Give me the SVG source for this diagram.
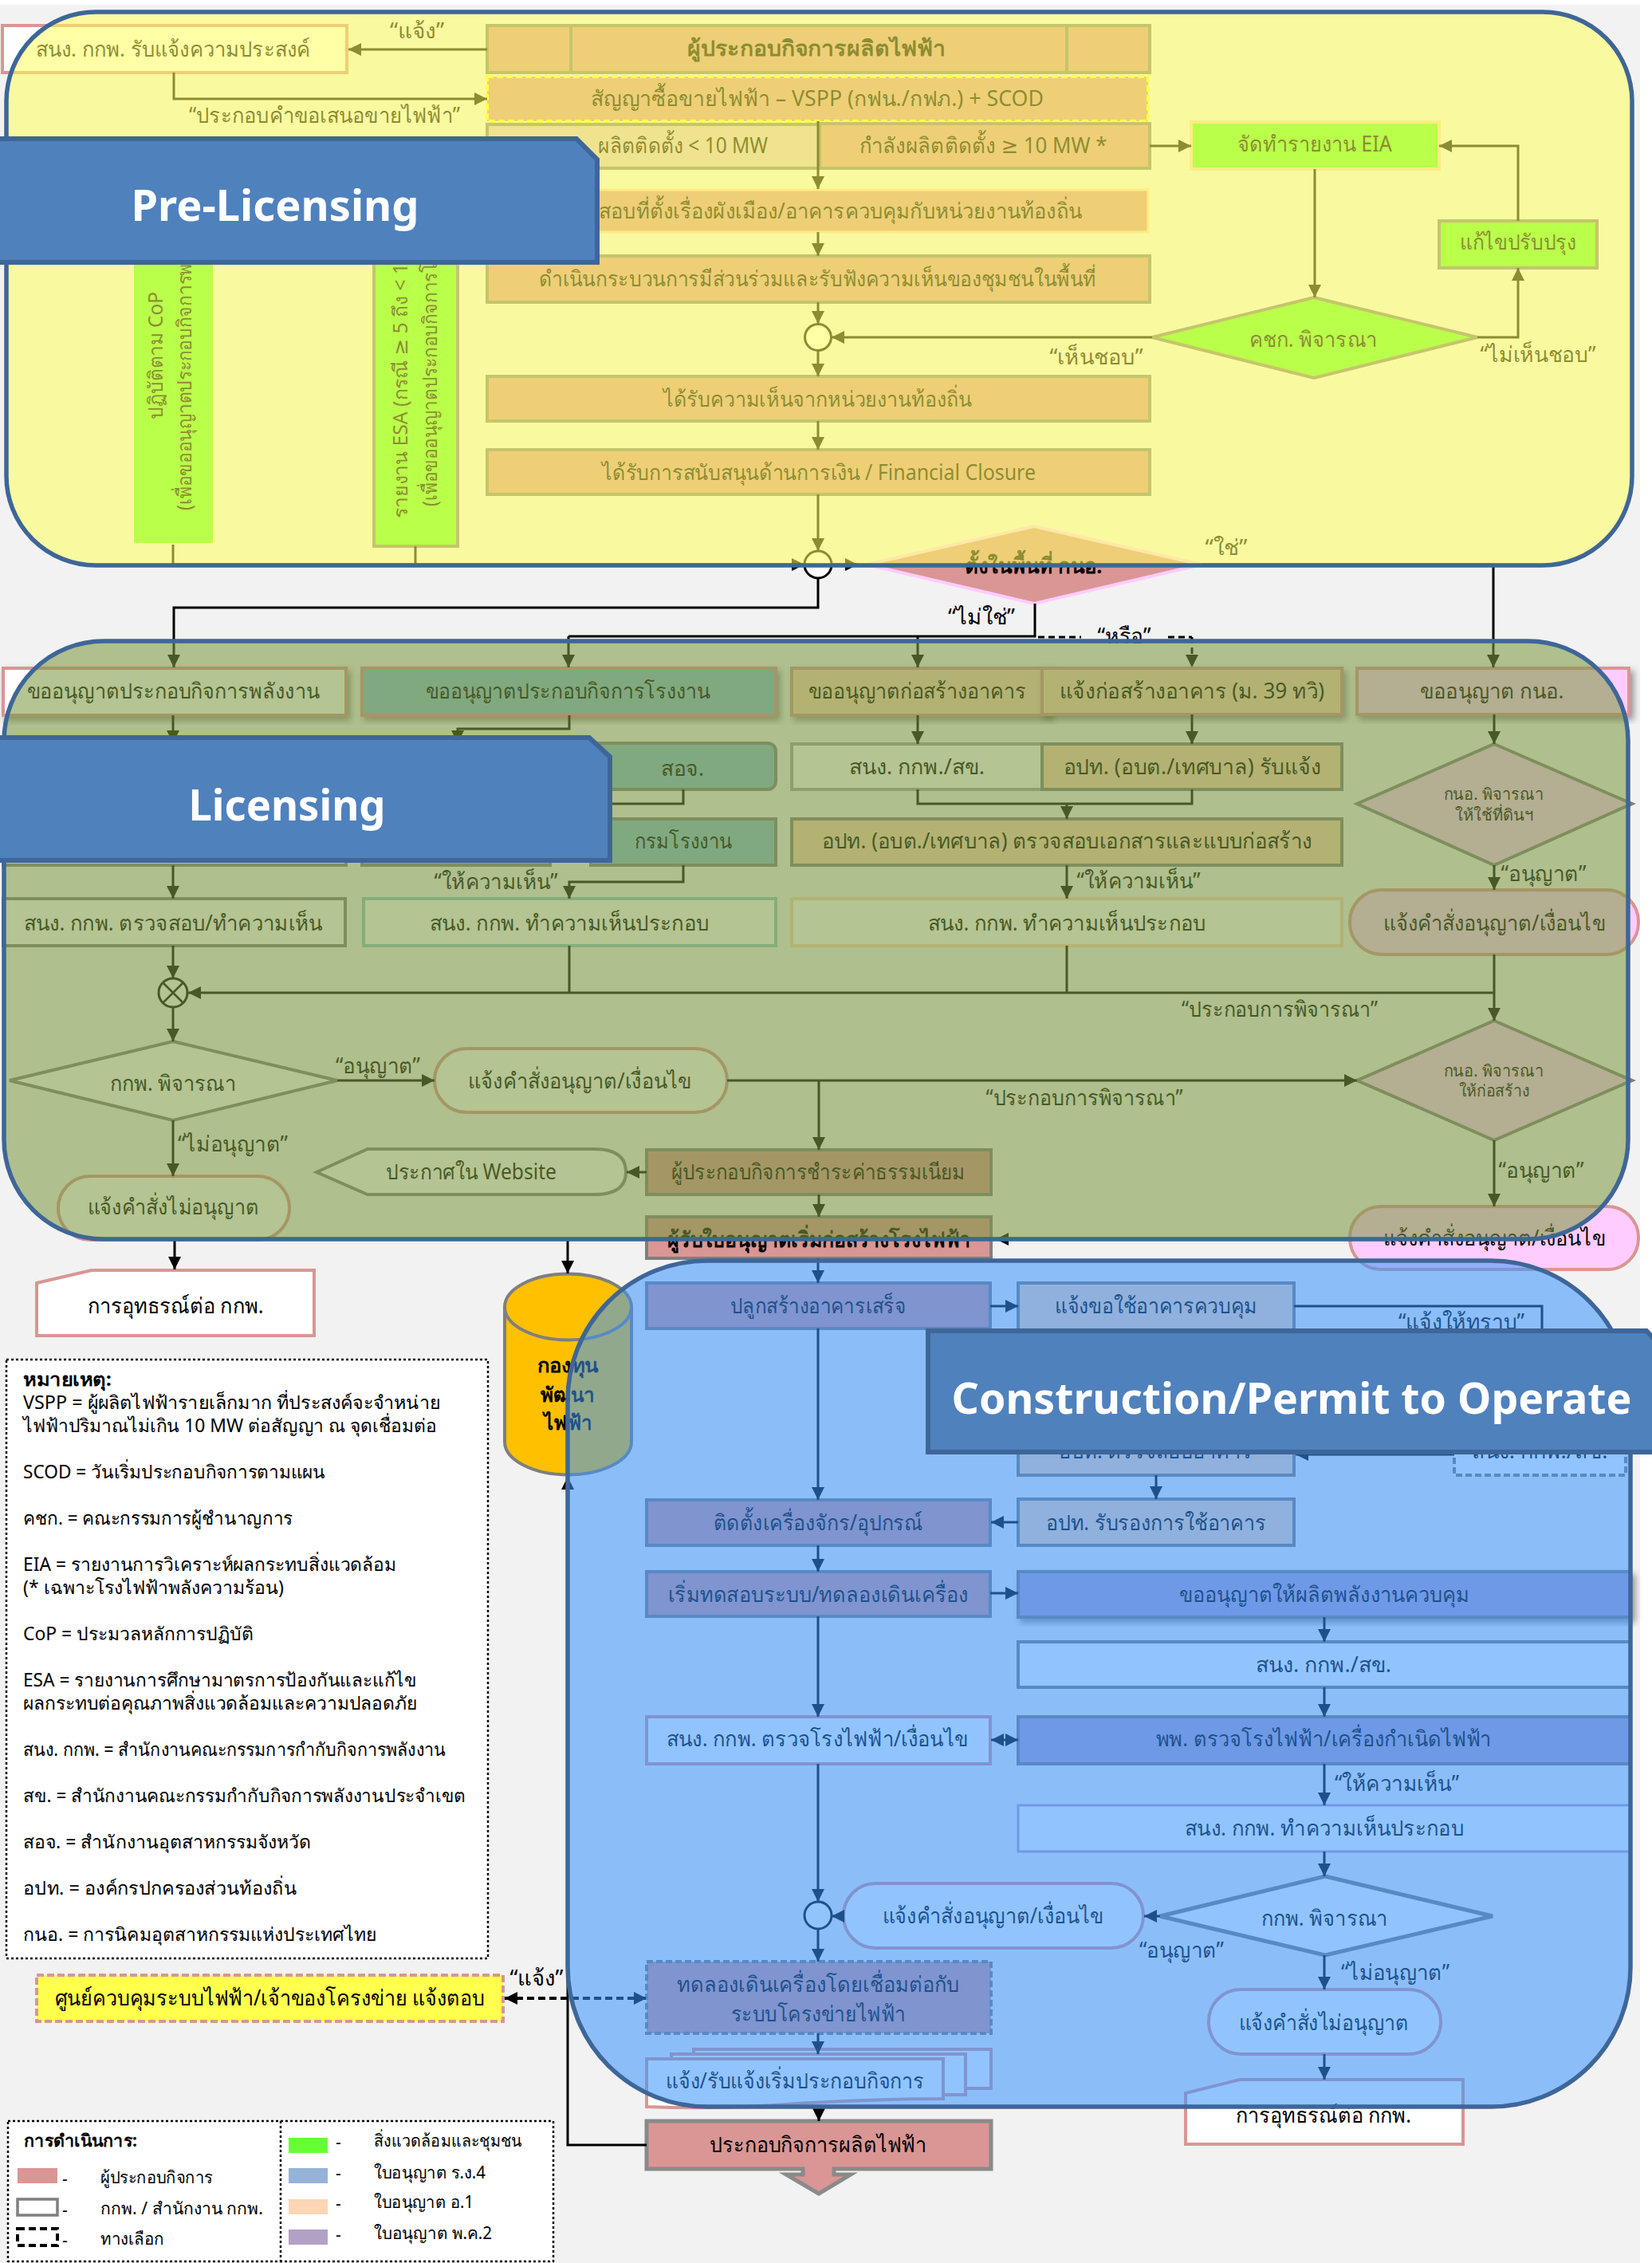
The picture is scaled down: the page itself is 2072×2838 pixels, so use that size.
<svg xmlns="http://www.w3.org/2000/svg" width="2072" height="2838" viewBox="0 0 2072 2838">
<style>
text{font-family:"Noto Sans","DejaVu Sans",sans-serif;fill:#000}
.t{font-size:27px;text-anchor:middle}
.b{font-size:27px;text-anchor:middle;font-weight:700}
.s{font-size:20px;text-anchor:middle}
.n{font-size:23px}
.l{font-size:21px}
.r{font-size:25px}
.h{font-size:54px;font-weight:700;fill:#fff;text-anchor:middle}
.op{fill:#D99694;stroke:#7F7F7F;stroke-width:4}
.wh{fill:#fff;stroke:#7F7F7F;stroke-width:4}
.wp{fill:#fff;stroke:#D99694;stroke-width:4}
.wb{fill:#fff;stroke:#8FCBC0;stroke-width:4}
.wa{fill:#fff;stroke:#FCD5B4;stroke-width:4}
.pe{fill:#FCD5B4;stroke:#7F7F7F;stroke-width:4}
.bl{fill:#84C0D4;stroke:#7F7F7F;stroke-width:4}
.pu{fill:#B2A1C7;stroke:#7F7F7F;stroke-width:4}
.pk{fill:#FFCCFF;stroke:#D99694;stroke-width:4}
.gr{fill:#66FF33;stroke:#7F7F7F;stroke-width:4}
.panel{stroke:#3E6698;stroke-width:5.5}
.ban{fill:#4F81BD;stroke:#3E6698;stroke-width:6}
.c{fill:none;stroke:#000;stroke-width:3}
.d{fill:none;stroke:#000;stroke-width:3;stroke-dasharray:8 5}
.dot{fill:#fff;stroke:#000;stroke-width:2.5;stroke-dasharray:3 3}
</style>
<defs>
<marker id="a" markerUnits="userSpaceOnUse" markerWidth="17" markerHeight="18" refX="16" refY="9" orient="auto-start-reverse"><path d="M0,1 L16,9 L0,17 Z" fill="#000"/></marker>
<filter id="sh" x="-5%" y="-15%" width="112%" height="135%"><feDropShadow dx="4" dy="5" stdDeviation="4" flood-color="#000" flood-opacity=".4"/></filter>
</defs>
<rect x="0" y="0" width="2072" height="2838" fill="#fff"/>
<rect x="0" y="6" width="2057" height="2832" fill="#F2F2F2"/>

<g id="pre-nodes">
<g id="n-notify"><rect class="wp" x="3" y="32" width="432" height="59"/><text class="t" x="217" y="71" textLength="345" lengthAdjust="spacingAndGlyphs">สนง. กกพ. รับแจ้งความประสงค์</text></g>
<g id="n-operator"><rect class="op" x="611" y="32" width="831" height="59"/><path class="op" d="M716,32V91M1338,32V91"/><text class="b" x="1024" y="70" textLength="324" lengthAdjust="spacingAndGlyphs">ผู้ประกอบกิจการผลิตไฟฟ้า</text></g>
<g id="n-ppa"><rect x="611" y="96" width="829" height="56" fill="#D99694" stroke="#FFFF33" stroke-width="4" stroke-dasharray="8 4"/><text class="t" x="1025" y="133" textLength="568" lengthAdjust="spacingAndGlyphs">สัญญาซื้อขายไฟฟ้า – VSPP (กฟน./กฟภ.) + SCOD</text></g>
<g id="n-lt10"><rect x="611" y="156" width="417" height="55" fill="#DCC0CC" stroke="#7F7F7F" stroke-width="4"/><text class="t" x="750" y="192" style="text-anchor:start" textLength="213" lengthAdjust="spacingAndGlyphs">ผลิตติดตั้ง &lt; 10 MW</text></g>
<g id="n-ge10"><rect class="op" x="1028" y="155" width="414" height="56"/><text class="t" x="1233" y="192" textLength="311" lengthAdjust="spacingAndGlyphs">กำลังผลิตติดตั้ง ≥ 10 MW *</text></g>
<g id="n-eia"><rect x="1494" y="153" width="311" height="59" fill="#66FF33" stroke="#FCD5B4" stroke-width="4"/><text class="t" x="1649" y="190" textLength="194" lengthAdjust="spacingAndGlyphs">จัดทำรายงาน EIA</text></g>
<g id="n-fix"><rect class="gr" x="1805" y="277" width="198" height="59"/><text class="t" x="1904" y="313" textLength="146" lengthAdjust="spacingAndGlyphs">แก้ไขปรับปรุง</text></g>
<g id="n-town"><rect x="611" y="238" width="829" height="53" fill="#D99694" stroke="#FCD5B4" stroke-width="3"/><text class="t" x="751" y="274" style="text-anchor:start" textLength="606" lengthAdjust="spacingAndGlyphs">สอบที่ตั้งเรื่องผังเมือง/อาคารควบคุมกับหน่วยงานท้องถิ่น</text></g>
<g id="n-public"><rect class="op" x="611" y="321" width="831" height="58"/><text class="t" x="1025" y="359" textLength="699" lengthAdjust="spacingAndGlyphs">ดำเนินกระบวนการมีส่วนร่วมและรับฟังความเห็นของชุมชนในพื้นที่</text></g>
<g id="n-j1"><circle cx="1026" cy="423" r="16.5" fill="#fff" stroke="#000" stroke-width="3"/></g>
<g id="n-local"><rect class="op" x="611" y="472" width="831" height="56"/><text class="t" x="1025" y="510" textLength="387" lengthAdjust="spacingAndGlyphs">ได้รับความเห็นจากหน่วยงานท้องถิ่น</text></g>
<g id="n-fin"><rect class="op" x="611" y="564" width="831" height="56"/><text class="t" x="1027" y="602" textLength="544" lengthAdjust="spacingAndGlyphs">ได้รับการสนับสนุนด้านการเงิน / Financial Closure</text></g>
<g id="n-j2"><circle cx="1026" cy="708" r="17" fill="#fff" stroke="#000" stroke-width="3"/></g>
<g id="n-ieat-q"><path d="M1297,660 L1507,708 L1297,757 L1087,708 Z" fill="#D99694" stroke="#FFCCFF" stroke-width="4"/><text class="b" x="1296" y="719" textLength="173" lengthAdjust="spacingAndGlyphs">ตั้งในพื้นที่ กนอ.</text></g>
<g id="n-ec"><path d="M1648,373 L1853,423 L1648,474 L1445,423 Z" class="gr"/><text class="t" x="1647" y="435" textLength="161" lengthAdjust="spacingAndGlyphs">คชก. พิจารณา</text></g>
<g id="n-cop"><rect x="168" y="300" width="99" height="381" fill="#66FF33"/>
<text class="r" transform="translate(204 526) rotate(-90)" textLength="160" lengthAdjust="spacingAndGlyphs">ปฏิบัติตาม CoP</text>
<text class="r" transform="translate(240 640) rotate(-90)" textLength="309" lengthAdjust="spacingAndGlyphs">(เพื่อขออนุญาตประกอบกิจการพ</text></g>
<g id="n-esa"><rect class="gr" x="469" y="300" width="105" height="385"/>
<text class="r" transform="translate(511 650) rotate(-90)" textLength="320" lengthAdjust="spacingAndGlyphs">รายงาน ESA (กรณี ≥ 5 ถึง &lt; 1</text>
<text class="r" transform="translate(548 635) rotate(-90)" textLength="305" lengthAdjust="spacingAndGlyphs">(เพื่อขออนุญาตประกอบกิจการโ</text></g>
</g>

<g id="lic-nodes">
<g id="n-a1" filter="url(#sh)"><rect class="wp" x="4" y="838" width="430" height="59"/></g><text class="t" x="217" y="876" textLength="367" lengthAdjust="spacingAndGlyphs">ขออนุญาตประกอบกิจการพลังงาน</text>
<g id="n-b1" filter="url(#sh)"><rect x="454" y="838" width="519" height="59" fill="#84C0D4" stroke="#D99694" stroke-width="4"/></g><text class="t" x="712" y="876" textLength="357" lengthAdjust="spacingAndGlyphs">ขออนุญาตประกอบกิจการโรงงาน</text>
<g id="n-c1" filter="url(#sh)"><rect x="993" y="838" width="323" height="59" fill="#FCD5B4" stroke="#D99694" stroke-width="4"/></g><text class="t" x="1150" y="876" textLength="273" lengthAdjust="spacingAndGlyphs">ขออนุญาตก่อสร้างอาคาร</text>
<g id="n-d1" filter="url(#sh)"><rect x="1307" y="838" width="376" height="58" fill="#FCD5B4" stroke="#D99694" stroke-width="4"/></g><text class="t" x="1495" y="876" textLength="332" lengthAdjust="spacingAndGlyphs">แจ้งก่อสร้างอาคาร (ม. 39 ทวิ)</text>
<g id="n-e1" filter="url(#sh)"><rect class="pk" x="1702" y="838" width="341" height="58"/></g><text class="t" x="1871" y="876" textLength="181" lengthAdjust="spacingAndGlyphs">ขออนุญาต กนอ.</text>
<g id="n-a3"><rect class="wh" x="4" y="1027" width="430" height="58"/></g>
<g id="n-b3l"><rect class="bl" x="454" y="1027" width="236" height="58"/></g>
<g id="n-soj"><rect class="bl" x="738" y="932" width="235" height="58" rx="10"/><text class="t" x="856" y="973" textLength="54" lengthAdjust="spacingAndGlyphs">สอจ.</text></g>
<g id="n-dow"><rect class="bl" x="741" y="1027" width="232" height="58"/><text class="t" x="857" y="1064" textLength="122" lengthAdjust="spacingAndGlyphs">กรมโรงงาน</text></g>
<g id="n-c2"><rect x="993" y="933" width="314" height="57" fill="#fff" stroke="#A6A6A6" stroke-width="4"/><text class="t" x="1150" y="971" textLength="170" lengthAdjust="spacingAndGlyphs">สนง. กกพ./สข.</text></g>
<g id="n-d2"><rect class="pe" x="1307" y="933" width="376" height="57"/><text class="t" x="1495" y="971" textLength="323" lengthAdjust="spacingAndGlyphs">อปท. (อบต./เทศบาล) รับแจ้ง</text></g>
<g id="n-c3"><rect class="pe" x="993" y="1027" width="690" height="58"/><text class="t" x="1338" y="1064" textLength="615" lengthAdjust="spacingAndGlyphs">อปท. (อบต./เทศบาล) ตรวจสอบเอกสารและแบบก่อสร้าง</text></g>
<g id="n-a4"><rect class="wh" x="4" y="1127" width="429" height="59"/><text class="t" x="217" y="1167" textLength="375" lengthAdjust="spacingAndGlyphs">สนง. กกพ. ตรวจสอบ/ทำความเห็น</text></g>
<g id="n-b4"><rect class="wb" x="456" y="1127" width="517" height="59"/><text class="t" x="714" y="1167" textLength="351" lengthAdjust="spacingAndGlyphs">สนง. กกพ. ทำความเห็นประกอบ</text></g>
<g id="n-c4"><rect class="wa" x="993" y="1127" width="690" height="59"/><text class="t" x="1338" y="1167" textLength="349" lengthAdjust="spacingAndGlyphs">สนง. กกพ. ทำความเห็นประกอบ</text></g>
<g id="n-ieat1"><path class="pk" style="stroke:#7F7F7F" d="M1874,933 L2047,1008 L1874,1085 L1702,1008 Z"/><text class="s" x="1873" y="1003" textLength="125" lengthAdjust="spacingAndGlyphs">กนอ. พิจารณา</text><text class="s" x="1874" y="1029" textLength="99" lengthAdjust="spacingAndGlyphs">ให้ใช้ที่ดินฯ</text></g>
<g id="n-pill1"><rect class="pk" x="1693" y="1116" width="362" height="81" rx="40"/><text class="t" x="1874" y="1167" textLength="279" lengthAdjust="spacingAndGlyphs">แจ้งคำสั่งอนุญาต/เงื่อนไข</text></g>
<g id="n-x"><circle cx="217" cy="1245" r="18" fill="#fff" stroke="#000" stroke-width="3"/><path d="M204,1232L230,1258M230,1232L204,1258" stroke="#000" stroke-width="2.5"/></g>
<g id="n-erc-q"><path class="wh" d="M217,1306 L423,1355 L217,1405 L12,1355 Z"/><text class="t" x="217" y="1368" textLength="158" lengthAdjust="spacingAndGlyphs">กกพ. พิจารณา</text></g>
<g id="n-pill2"><rect class="wp" x="545" y="1315" width="367" height="80" rx="40"/><text class="t" x="727" y="1365" textLength="280" lengthAdjust="spacingAndGlyphs">แจ้งคำสั่งอนุญาต/เงื่อนไข</text></g>
<g id="n-ieat2"><path class="pk" style="stroke:#7F7F7F" d="M1874,1280 L2047,1355 L1874,1430 L1702,1355 Z"/><text class="s" x="1873" y="1350" textLength="125" lengthAdjust="spacingAndGlyphs">กนอ. พิจารณา</text><text class="s" x="1874" y="1375" textLength="89" lengthAdjust="spacingAndGlyphs">ให้ก่อสร้าง</text></g>
<g id="n-pill3"><rect class="pk" x="1693" y="1513" width="362" height="79" rx="39"/><text class="t" x="1874" y="1562" textLength="279" lengthAdjust="spacingAndGlyphs">แจ้งคำสั่งอนุญาต/เงื่อนไข</text></g>
<g id="n-pill4"><rect class="wp" x="73" y="1475" width="290" height="80" rx="40"/><text class="t" x="217" y="1523" textLength="215" lengthAdjust="spacingAndGlyphs">แจ้งคำสั่งไม่อนุญาต</text></g>
<g id="n-web"><path class="wh" d="M397,1470 L461,1441 H745 Q785,1441 785,1470 Q785,1498 745,1498 H461 Z"/><text class="t" x="591" y="1479" textLength="214" lengthAdjust="spacingAndGlyphs">ประกาศใน Website</text></g>
<g id="n-fee"><rect class="op" x="811" y="1442" width="432" height="56"/><text class="t" x="1026" y="1479" textLength="369" lengthAdjust="spacingAndGlyphs">ผู้ประกอบกิจการชำระค่าธรรมเนียม</text></g>
<g id="n-start"><rect class="op" x="811" y="1526" width="432" height="52"/><text class="b" x="1027" y="1564" textLength="380" lengthAdjust="spacingAndGlyphs">ผู้รับใบอนุญาตเริ่มก่อสร้างโรงไฟฟ้า</text></g>
<g id="n-appeal1"><path class="wp" d="M46,1609 L115,1593 H394 V1675 H46 Z"/><text class="t" x="220" y="1647" textLength="221" lengthAdjust="spacingAndGlyphs">การอุทธรณ์ต่อ กกพ.</text></g>
<g id="n-fund"><path d="M633,1639 A79.5,41.5 0 0 1 792,1639 V1808 A79.5,41.5 0 0 1 633,1808 Z" fill="#FFC000" stroke="#7F7F7F" stroke-width="4"/><path d="M633,1639 A79.5,41.5 0 0 0 792,1639" fill="none" stroke="#7F7F7F" stroke-width="4"/>
<text class="b" style="font-size:25px" x="712" y="1721" textLength="77" lengthAdjust="spacingAndGlyphs">กองทุน</text><text class="b" style="font-size:25px" x="712" y="1758" textLength="68" lengthAdjust="spacingAndGlyphs">พัฒนา</text><text class="b" style="font-size:25px" x="712" y="1793" textLength="61" lengthAdjust="spacingAndGlyphs">ไฟฟ้า</text></g>
</g>

<g id="con-nodes">
<g id="n-built"><rect class="op" x="811" y="1609" width="431" height="57"/><text class="t" x="1026" y="1647" textLength="220" lengthAdjust="spacingAndGlyphs">ปลูกสร้างอาคารเสร็จ</text></g>
<g id="n-usereq"><rect class="pe" x="1277" y="1609" width="346" height="60"/><text class="t" x="1450" y="1647" textLength="254" lengthAdjust="spacingAndGlyphs">แจ้งขอใช้อาคารควบคุม</text></g>
<g id="n-check"><rect class="pe" x="1277" y="1790" width="346" height="60"/><text class="t" x="1449" y="1829" textLength="242" lengthAdjust="spacingAndGlyphs">อปท. ตรวจสอบอาคาร</text></g>
<g id="n-ercopt"><rect x="1824" y="1790" width="215" height="60" fill="#fff" stroke="#7F7F7F" stroke-width="4" stroke-dasharray="8 4"/><text class="t" x="1931" y="1829" textLength="171" lengthAdjust="spacingAndGlyphs">สนง. กกพ./สข.</text></g>
<g id="n-certify"><rect class="pe" x="1277" y="1880" width="346" height="58"/><text class="t" x="1450" y="1919" textLength="276" lengthAdjust="spacingAndGlyphs">อปท. รับรองการใช้อาคาร</text></g>
<g id="n-install"><rect class="op" x="811" y="1881" width="431" height="57"/><text class="t" x="1026" y="1919" textLength="263" lengthAdjust="spacingAndGlyphs">ติดตั้งเครื่องจักร/อุปกรณ์</text></g>
<g id="n-test"><rect class="op" x="811" y="1971" width="431" height="56"/><text class="t" x="1026" y="2009" textLength="376" lengthAdjust="spacingAndGlyphs">เริ่มทดสอบระบบ/ทดลองเดินเครื่อง</text></g>
<g id="n-pk2" filter="url(#sh)"><rect class="pu" x="1277" y="1971" width="768" height="57"/></g><text class="t" x="1661" y="2009" textLength="364" lengthAdjust="spacingAndGlyphs">ขออนุญาตให้ผลิตพลังงานควบคุม</text>
<g id="n-erc2"><rect class="wh" x="1277" y="2059" width="768" height="57"/><text class="t" x="1660" y="2097" textLength="170" lengthAdjust="spacingAndGlyphs">สนง. กกพ./สข.</text></g>
<g id="n-dede"><rect class="pu" x="1277" y="2153" width="768" height="59"/><text class="t" x="1660" y="2190" textLength="421" lengthAdjust="spacingAndGlyphs">พพ. ตรวจโรงไฟฟ้า/เครื่องกำเนิดไฟฟ้า</text></g>
<g id="n-inspect"><rect class="wp" x="811" y="2153" width="431" height="59"/><text class="t" x="1025" y="2190" textLength="378" lengthAdjust="spacingAndGlyphs">สนง. กกพ. ตรวจโรงไฟฟ้า/เงื่อนไข</text></g>
<g id="n-opinion"><rect x="1277" y="2264" width="768" height="58" fill="#fff" stroke="#B2A1C7" stroke-width="3"/><text class="t" x="1661" y="2302" textLength="350" lengthAdjust="spacingAndGlyphs">สนง. กกพ. ทำความเห็นประกอบ</text></g>
<g id="n-j3"><circle cx="1026" cy="2402" r="17" fill="#fff" stroke="#000" stroke-width="3"/></g>
<g id="n-pill5"><rect class="wp" x="1058" y="2362" width="376" height="81" rx="40"/><text class="t" x="1245" y="2412" textLength="277" lengthAdjust="spacingAndGlyphs">แจ้งคำสั่งอนุญาต/เงื่อนไข</text></g>
<g id="n-erc3"><path class="wh" style="stroke-width:5" d="M1662,2353 L1872,2403 L1662,2452 L1455,2403 Z"/><text class="t" x="1661" y="2415" textLength="159" lengthAdjust="spacingAndGlyphs">กกพ. พิจารณา</text></g>
<g id="n-pill6"><rect class="wp" x="1516" y="2495" width="291" height="81" rx="40"/><text class="t" x="1660" y="2546" textLength="213" lengthAdjust="spacingAndGlyphs">แจ้งคำสั่งไม่อนุญาต</text></g>
<g id="n-appeal2"><path class="wp" d="M1487,2625 L1555,2608 H1835 V2689 H1487 Z"/><text class="t" x="1660" y="2662" textLength="220" lengthAdjust="spacingAndGlyphs">การอุทธรณ์ต่อ กกพ.</text></g>
<g id="n-sync"><rect x="811" y="2460" width="432" height="90" fill="#D99694" stroke="#7F7F7F" stroke-width="4" stroke-dasharray="8 4"/><text class="t" x="1026" y="2498" textLength="354" lengthAdjust="spacingAndGlyphs">ทดลองเดินเครื่องโดยเชื่อมต่อกับ</text><text class="t" x="1026" y="2535" textLength="219" lengthAdjust="spacingAndGlyphs">ระบบโครงข่ายไฟฟ้า</text></g>
<g id="n-docs"><path class="wp" d="M870,2570 H1243 V2619 H870 Z"/><path class="wp" d="M842,2576 H1211 V2627 H842 Z"/><path class="wp" d="M811,2582 H1183 V2632 C1100,2632 1040,2636 1000,2638 C950,2642 880,2645 811,2642 Z"/><text class="t" x="997" y="2619" textLength="324" lengthAdjust="spacingAndGlyphs">แจ้ง/รับแจ้งเริ่มประกอบกิจการ</text></g>
<g id="n-cod"><path d="M811,2660 H1243 V2720 H1046 V2727 H1067 L1027,2751 L986,2727 H1007 V2720 H811 Z" fill="#D99694" stroke="#8A8A8A" stroke-width="5"/><text class="t" x="1026" y="2699" textLength="272" lengthAdjust="spacingAndGlyphs">ประกอบกิจการผลิตไฟฟ้า</text></g>
<g id="n-grid"><rect x="46" y="2477" width="585" height="58" fill="#FFFF4D" stroke="#D99694" stroke-width="4" stroke-dasharray="9 4"/><text class="t" x="338" y="2515" textLength="539" lengthAdjust="spacingAndGlyphs">ศูนย์ควบคุมระบบไฟฟ้า/เจ้าของโครงข่าย แจ้งตอบ</text></g>
</g>

<g id="connectors">
<path class="c" marker-end="url(#a)" d="M611,62H437"/>
<path class="c" marker-end="url(#a)" d="M218,91V124H611"/>
<path class="c" marker-end="url(#a)" d="M1026,152V237"/>
<path class="c" marker-end="url(#a)" d="M1026,291V321"/>
<path class="c" marker-end="url(#a)" d="M1026,379V406"/>
<path class="c" marker-end="url(#a)" d="M1026,440V472"/>
<path class="c" marker-end="url(#a)" d="M1026,528V564"/>
<path class="c" marker-end="url(#a)" d="M1026,620V691"/>
<path class="c" marker-end="url(#a)" d="M1442,183H1494"/>
<path class="c" marker-end="url(#a)" d="M1649,212V373"/>
<path class="c" marker-end="url(#a)" d="M1445,423H1043"/>
<path class="c" marker-end="url(#a)" d="M1853,423H1904V336"/>
<path class="c" marker-end="url(#a)" d="M1904,277V183H1805"/>
<path class="c" marker-end="url(#a)" d="M217,683V708H1009"/>
<path class="c" d="M521,685V708"/>
<path class="c" marker-end="url(#a)" d="M1043,708H1076"/>
<path class="c" marker-end="url(#a)" d="M1026,725V762H218V837"/>
<path class="c" d="M1298,757V798H713"/>
<path class="c" marker-end="url(#a)" d="M713,798V837"/>
<path class="c" marker-end="url(#a)" d="M1151,798V837"/>
<path class="d" d="M1302,799H1356M1465,799H1495"/>
<path class="d" marker-end="url(#a)" d="M1495,799V837"/>
<path class="c" marker-end="url(#a)" d="M1507,708H1873V837"/>
<path class="c" marker-end="url(#a)" d="M217,897V932"/>
<path class="c" marker-end="url(#a)" d="M714,897V914H574V932"/>
<path class="c" d="M857,990V1008H750"/>
<path class="c" marker-end="url(#a)" d="M857,1085V1106H714V1127"/>
<path class="c" marker-end="url(#a)" d="M217,1085V1127"/>
<path class="c" marker-end="url(#a)" d="M1151,897V933"/>
<path class="c" marker-end="url(#a)" d="M1495,896V933"/>
<path class="c" d="M1151,990V1008H1495V990"/>
<path class="c" marker-end="url(#a)" d="M1338,1008V1027"/>
<path class="c" marker-end="url(#a)" d="M1338,1085V1127"/>
<path class="c" marker-end="url(#a)" d="M1874,896V933"/>
<path class="c" marker-end="url(#a)" d="M1874,1085V1116"/>
<path class="c" marker-end="url(#a)" d="M1874,1197V1280"/>
<path class="c" marker-end="url(#a)" d="M1874,1245H236"/>
<path class="c" d="M714,1186V1245M1338,1186V1245"/>
<path class="c" marker-end="url(#a)" d="M217,1186V1227"/>
<path class="c" marker-end="url(#a)" d="M217,1263V1306"/>
<path class="c" marker-end="url(#a)" d="M423,1355H545"/>
<path class="c" marker-end="url(#a)" d="M912,1355H1702"/>
<path class="c" marker-end="url(#a)" d="M1027,1355V1442"/>
<path class="c" marker-end="url(#a)" d="M1874,1430V1513"/>
<path class="c" marker-end="url(#a)" d="M217,1405V1475"/>
<path class="c" marker-end="url(#a)" d="M811,1470H786"/>
<path class="c" marker-end="url(#a)" d="M1027,1498V1526"/>
<path class="c" marker-end="url(#a)" d="M1693,1554H1249"/>
<path class="c" marker-end="url(#a)" d="M219,1554V1592"/>
<path class="c" marker-end="url(#a)" d="M712,1554V1597"/>
<path class="c" marker-end="url(#a)" d="M1026,1578V1609"/>
<path class="c" marker-end="url(#a)" d="M811,2690H712V1852"/>
<path class="c" marker-end="url(#a)" d="M1242,1638H1277"/>
<path class="c" d="M1623,1638H1934V1700"/>
<path class="c" marker-end="url(#a)" d="M1824,1824H1625"/>
<path class="c" marker-end="url(#a)" d="M1026,1666V1881"/>
<path class="c" marker-end="url(#a)" d="M1450,1850V1880"/>
<path class="c" marker-end="url(#a)" d="M1277,1909H1243"/>
<path class="c" marker-end="url(#a)" d="M1026,1938V1971"/>
<path class="c" marker-end="url(#a)" d="M1242,1998H1277"/>
<path class="c" marker-end="url(#a)" d="M1661,2028V2059"/>
<path class="c" marker-end="url(#a)" d="M1661,2116V2153"/>
<path class="c" marker-start="url(#a)" marker-end="url(#a)" d="M1243,2182H1277"/>
<path class="c" marker-end="url(#a)" d="M1026,2027V2153"/>
<path class="c" marker-end="url(#a)" d="M1661,2212V2264"/>
<path class="c" marker-end="url(#a)" d="M1661,2322V2353"/>
<path class="c" marker-end="url(#a)" d="M1026,2212V2385"/>
<path class="c" marker-end="url(#a)" d="M1026,2419V2460"/>
<path class="c" marker-end="url(#a)" d="M1058,2403H1043"/>
<path class="c" marker-end="url(#a)" d="M1455,2403H1435"/>
<path class="c" marker-end="url(#a)" d="M1661,2452V2495"/>
<path class="c" marker-end="url(#a)" d="M1661,2576V2608"/>
<path class="c" marker-end="url(#a)" d="M1026,2550V2576"/>
<path class="c" marker-end="url(#a)" d="M1027,2640V2660"/>
<path class="c" marker-start="url(#a)" marker-end="url(#a)" style="stroke-width:4;stroke-dasharray:9 5" d="M633,2506H811"/>
</g>

<g id="labels">
<text class="t" x="523" y="48" textLength="68" lengthAdjust="spacingAndGlyphs">“แจ้ง”</text>
<text class="t" x="407" y="154" textLength="340" lengthAdjust="spacingAndGlyphs">“ประกอบคำขอเสนอขายไฟฟ้า”</text>
<text class="t" x="1375" y="457" textLength="117" lengthAdjust="spacingAndGlyphs">“เห็นชอบ”</text>
<text class="t" x="1929" y="454" textLength="145" lengthAdjust="spacingAndGlyphs">“ไม่เห็นชอบ”</text>
<text class="t" x="1538" y="696" textLength="53" lengthAdjust="spacingAndGlyphs">“ใช่”</text>
<text class="t" x="1231" y="783" textLength="84" lengthAdjust="spacingAndGlyphs">“ไม่ใช่”</text>
<text class="t" x="1410" y="807" textLength="67" lengthAdjust="spacingAndGlyphs">“หรือ”</text>
<text class="t" x="622" y="1115" textLength="155" lengthAdjust="spacingAndGlyphs">“ให้ความเห็น”</text>
<text class="t" x="1428" y="1114" textLength="155" lengthAdjust="spacingAndGlyphs">“ให้ความเห็น”</text>
<text class="t" x="1936" y="1105" textLength="107" lengthAdjust="spacingAndGlyphs">“อนุญาต”</text>
<text class="t" x="1605" y="1275" textLength="246" lengthAdjust="spacingAndGlyphs">“ประกอบการพิจารณา”</text>
<text class="t" x="474" y="1346" textLength="106" lengthAdjust="spacingAndGlyphs">“อนุญาต”</text>
<text class="t" x="1360" y="1386" textLength="247" lengthAdjust="spacingAndGlyphs">“ประกอบการพิจารณา”</text>
<text class="t" x="292" y="1444" textLength="138" lengthAdjust="spacingAndGlyphs">“ไม่อนุญาต”</text>
<text class="t" x="1933" y="1477" textLength="107" lengthAdjust="spacingAndGlyphs">“อนุญาต”</text>
<text class="t" x="1833" y="1667" textLength="158" lengthAdjust="spacingAndGlyphs">“แจ้งให้ทราบ”</text>
<text class="t" x="1752" y="2246" textLength="156" lengthAdjust="spacingAndGlyphs">“ให้ความเห็น”</text>
<text class="t" x="1482" y="2455" textLength="106" lengthAdjust="spacingAndGlyphs">“อนุญาต”</text>
<text class="t" x="1750" y="2483" textLength="136" lengthAdjust="spacingAndGlyphs">“ไม่อนุญาต”</text>
<text class="t" x="673" y="2490" textLength="67" lengthAdjust="spacingAndGlyphs">“แจ้ง”</text>
</g>

<g id="panels">
<rect id="panel-pre" class="panel" x="8" y="15" width="2039" height="694" rx="112" ry="112" fill="#FFFF5D" fill-opacity=".55"/>
<rect id="panel-lic" class="panel" x="5" y="804" width="2037" height="750" rx="125" ry="125" fill="#7D9942" fill-opacity=".575"/>
<rect id="panel-con" class="panel" x="712" y="1581" width="1333" height="1061" rx="175" ry="175" fill="#3793FF" fill-opacity=".55"/>
</g>

<g id="banners">
<g id="ban-pre"><path class="ban" d="M-6,174 H723 L749,200 V329 H-6 Z"/><text class="h" x="345" y="277" textLength="361" lengthAdjust="spacingAndGlyphs">Pre-Licensing</text></g>
<g id="ban-lic"><path class="ban" d="M-6,925 H739 L765,949 V1079 H-6 Z"/><text class="h" x="360" y="1029" textLength="247" lengthAdjust="spacingAndGlyphs">Licensing</text></g>
<g id="ban-con"><path class="ban" d="M1164,1669 H2065 L2081,1686 V1821 H1164 Z"/><text class="h" x="1620" y="1773" textLength="853" lengthAdjust="spacingAndGlyphs">Construction/Permit to Operate</text></g>
</g>

<g id="notes"><rect class="dot" x="8" y="1705" width="604" height="751"/>
<text class="n" font-weight="700" x="29" y="1738" textLength="111" lengthAdjust="spacingAndGlyphs">หมายเหตุ:</text>
<text class="n" x="29" y="1767" textLength="523" lengthAdjust="spacingAndGlyphs">VSPP = ผู้ผลิตไฟฟ้ารายเล็กมาก ที่ประสงค์จะจำหน่าย</text>
<text class="n" x="29" y="1796" textLength="519" lengthAdjust="spacingAndGlyphs">ไฟฟ้าปริมาณไม่เกิน 10 MW ต่อสัญญา ณ จุดเชื่อมต่อ</text>
<text class="n" x="29" y="1854" textLength="379" lengthAdjust="spacingAndGlyphs">SCOD = วันเริ่มประกอบกิจการตามแผน</text>
<text class="n" x="29" y="1912" textLength="338" lengthAdjust="spacingAndGlyphs">คชก. = คณะกรรมการผู้ชำนาญการ</text>
<text class="n" x="29" y="1970" textLength="468" lengthAdjust="spacingAndGlyphs">EIA = รายงานการวิเคราะห์ผลกระทบสิ่งแวดล้อม</text>
<text class="n" x="29" y="1999" textLength="327" lengthAdjust="spacingAndGlyphs">(* เฉพาะโรงไฟฟ้าพลังความร้อน)</text>
<text class="n" x="29" y="2057" textLength="289" lengthAdjust="spacingAndGlyphs">CoP = ประมวลหลักการปฏิบัติ</text>
<text class="n" x="29" y="2115" textLength="494" lengthAdjust="spacingAndGlyphs">ESA = รายงานการศึกษามาตรการป้องกันและแก้ไข</text>
<text class="n" x="29" y="2144" textLength="494" lengthAdjust="spacingAndGlyphs">ผลกระทบต่อคุณภาพสิ่งแวดล้อมและความปลอดภัย</text>
<text class="n" x="29" y="2202" textLength="530" lengthAdjust="spacingAndGlyphs">สนง. กกพ. = สำนักงานคณะกรรมการกำกับกิจการพลังงาน</text>
<text class="n" x="29" y="2260" textLength="555" lengthAdjust="spacingAndGlyphs">สข. = สำนักงานคณะกรรมกำกับกิจการพลังงานประจำเขต</text>
<text class="n" x="29" y="2318" textLength="361" lengthAdjust="spacingAndGlyphs">สอจ. = สำนักงานอุตสาหกรรมจังหวัด</text>
<text class="n" x="29" y="2376" textLength="343" lengthAdjust="spacingAndGlyphs">อปท. = องค์กรปกครองส่วนท้องถิ่น</text>
<text class="n" x="29" y="2434" textLength="443" lengthAdjust="spacingAndGlyphs">กนอ. = การนิคมอุตสาหกรรมแห่งประเทศไทย</text>
</g>

<g id="legend"><rect class="dot" x="10" y="2660" width="684" height="176"/><path d="M352,2660V2836" stroke="#000" stroke-width="2.5" stroke-dasharray="3 3"/>
<text class="l" font-weight="700" x="30" y="2692" textLength="142" lengthAdjust="spacingAndGlyphs">การดำเนินการ:</text>
<rect x="22" y="2719" width="50" height="19" fill="#D99694"/><text class="l" x="78" y="2740">-</text><text class="l" x="126" y="2738" textLength="141" lengthAdjust="spacingAndGlyphs">ผู้ประกอบกิจการ</text>
<rect x="22" y="2758" width="50" height="20" fill="#fff" stroke="#7F7F7F" stroke-width="3.5"/><text class="l" x="78" y="2779">-</text><text class="l" x="126" y="2777" textLength="204" lengthAdjust="spacingAndGlyphs">กกพ. / สำนักงาน กกพ.</text>
<rect x="22" y="2795" width="50" height="21" fill="#fff" stroke="#000" stroke-width="4" stroke-dasharray="9 5"/><text class="l" x="78" y="2817">-</text><text class="l" x="126" y="2815" textLength="80" lengthAdjust="spacingAndGlyphs">ทางเลือก</text>
<rect x="362" y="2681" width="49" height="19" fill="#66FF33"/><text class="l" x="421" y="2694">-</text><text class="l" x="469" y="2692" textLength="185" lengthAdjust="spacingAndGlyphs">สิ่งแวดล้อมและชุมชน</text>
<rect x="362" y="2719" width="49" height="19" fill="#95B3D7"/><text class="l" x="421" y="2733">-</text><text class="l" x="469" y="2732" textLength="140" lengthAdjust="spacingAndGlyphs">ใบอนุญาต ร.ง.4</text>
<rect x="362" y="2758" width="49" height="19" fill="#FCD5B4"/><text class="l" x="421" y="2771">-</text><text class="l" x="469" y="2769" textLength="125" lengthAdjust="spacingAndGlyphs">ใบอนุญาต อ.1</text>
<rect x="362" y="2796" width="49" height="19" fill="#B2A1C7"/><text class="l" x="421" y="2810">-</text><text class="l" x="469" y="2808" textLength="148" lengthAdjust="spacingAndGlyphs">ใบอนุญาต พ.ค.2</text>
</g>
</svg>
